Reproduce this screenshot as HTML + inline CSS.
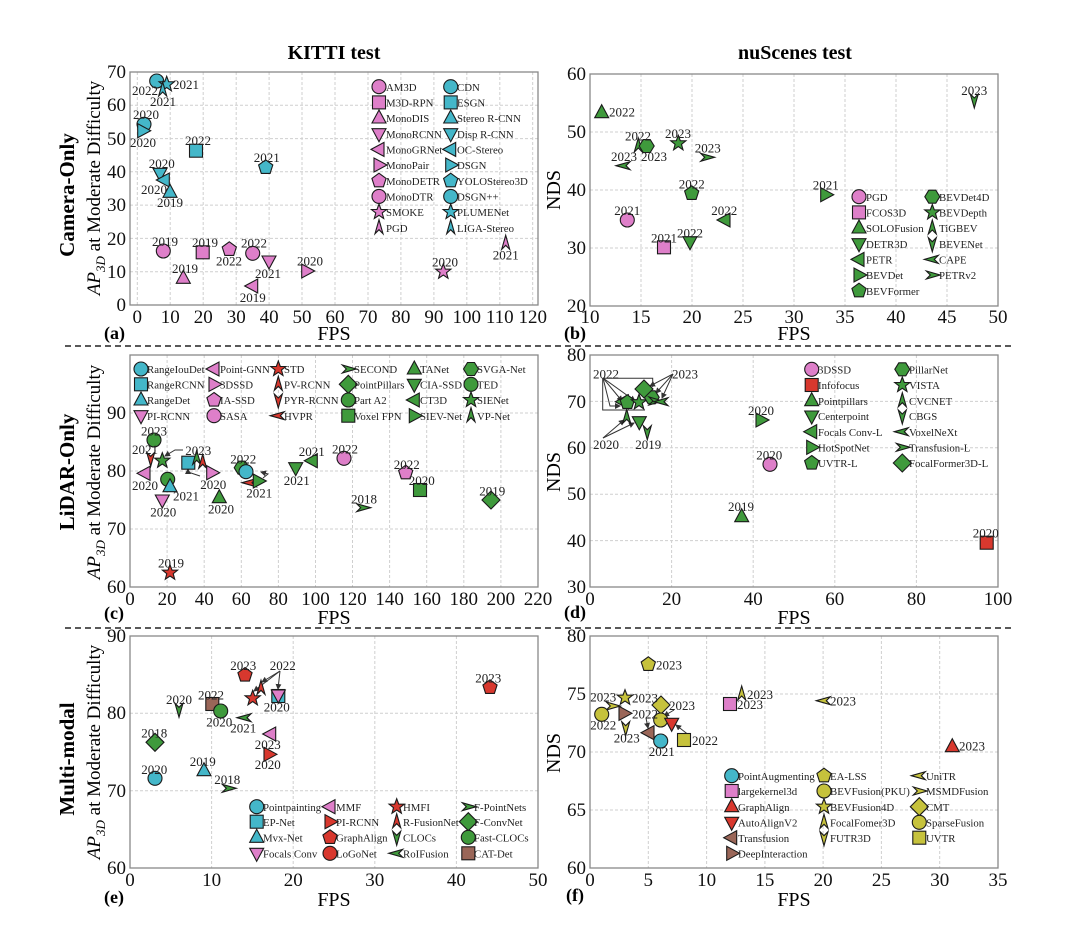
<!DOCTYPE html>
<html><head><meta charset="utf-8"><style>
html,body{margin:0;padding:0;background:#fff}
svg{display:block;font-family:"Liberation Serif",serif}
.g{stroke:#cfcfcf;stroke-width:1;stroke-dasharray:3,2}
.ax{fill:none;stroke:#888;stroke-width:1.3}
.tk{font-size:19px;fill:#111}
.yl{font-size:13px;fill:#222;text-anchor:middle}
.yl .s{text-anchor:start}
.lg{font-size:10.8px;fill:#222}
.m{stroke:#1a1a1a;stroke-width:1.1}
.pk{fill:#de7fc9}.cy{fill:#44b7c9}.gr{fill:#3f9a3c}.rd{fill:#d8382e}.br{fill:#9a6658}.ol{fill:#c6c23c}
.ln{stroke:#333;stroke-width:1;fill:none}
</style></head><body>
<svg width="1080" height="926" viewBox="0 0 1080 926" xmlns="http://www.w3.org/2000/svg">
<defs>
<g id="c"><circle r="7"/></g>
<g id="s"><rect x="-6.5" y="-6.5" width="13" height="13"/></g>
<g id="tu"><polygon points="0,-8 7,5 -7,5"/></g>
<g id="td"><polygon points="0,8 7,-5 -7,-5"/></g>
<g id="tl"><polygon points="-8,0 5,-7 5,7"/></g>
<g id="tr"><polygon points="8,0 -5,-7 -5,7"/></g>
<g id="p"><polygon points="0,-7.5 7.1,-2.3 4.4,6.1 -4.4,6.1 -7.1,-2.3"/></g>
<g id="h"><polygon points="-3.5,-6.5 3.5,-6.5 7.5,0 3.5,6.5 -3.5,6.5 -7.5,0"/></g>
<g id="st"><polygon points="0,-8 2,-2.6 7.6,-2.5 3.2,1 4.7,6.5 0,3.3 -4.7,6.5 -3.2,1 -7.6,-2.5 -2,-2.6"/></g>
<g id="d"><polygon points="0,-9 9,0 0,9 -9,0"/></g>
<g id="ca"><path d="M0,-8 L4,6 L0,2 L-4,6Z"/></g>
<g id="v"><path d="M0,8 L4,-6 L0,-2 L-4,-6Z"/></g>
<g id="lt"><path d="M-8,0 L6,-4 L2,0 L6,4Z"/></g>
<g id="gt"><path d="M8,0 L-6,-4 L-2,0 L-6,4Z"/></g>
<marker id="ar" markerWidth="6" markerHeight="6" refX="5" refY="3" orient="auto"><path d="M0,0 L6,3 L0,6Z" fill="#333"/></marker>
</defs>

<text x="334" y="59" font-size="20" font-weight="bold" text-anchor="middle">KITTI test</text>
<text x="795" y="59" font-size="20" font-weight="bold" text-anchor="middle">nuScenes test</text>
<text transform="translate(74,195) rotate(-90)" font-size="21" font-weight="bold" text-anchor="middle">Camera-Only</text>
<text transform="translate(74,472) rotate(-90)" font-size="21" font-weight="bold" text-anchor="middle">LiDAR-Only</text>
<text transform="translate(74,759) rotate(-90)" font-size="21" font-weight="bold" text-anchor="middle">Multi-modal</text>
<text transform="translate(100,188) rotate(-90)" font-size="19" text-anchor="middle"><tspan font-style="italic">AP</tspan><tspan font-size="13" dy="5" font-style="italic">3D</tspan><tspan dy="-5"> at Moderate Difficulty</tspan></text>
<text transform="translate(100,472) rotate(-90)" font-size="19" text-anchor="middle"><tspan font-style="italic">AP</tspan><tspan font-size="13" dy="5" font-style="italic">3D</tspan><tspan dy="-5"> at Moderate Difficulty</tspan></text>
<text transform="translate(100,752) rotate(-90)" font-size="19" text-anchor="middle"><tspan font-style="italic">AP</tspan><tspan font-size="13" dy="5" font-style="italic">3D</tspan><tspan dy="-5"> at Moderate Difficulty</tspan></text>
<text transform="translate(560,190) rotate(-90)" font-size="20" text-anchor="middle">NDS</text>
<text transform="translate(560,472) rotate(-90)" font-size="20" text-anchor="middle">NDS</text>
<text transform="translate(560,753) rotate(-90)" font-size="20" text-anchor="middle">NDS</text>
<line x1="65" y1="346" x2="1015" y2="346" stroke="#222" stroke-width="1.6" stroke-dasharray="6,4"/>
<line x1="65" y1="628" x2="1015" y2="628" stroke="#222" stroke-width="1.6" stroke-dasharray="6,4"/>

<g font-size="20" text-anchor="middle">
<text x="334" y="340">FPS</text><text x="794" y="340">FPS</text>
<text x="334" y="624">FPS</text><text x="794" y="624">FPS</text>
<text x="334" y="906">FPS</text><text x="794" y="906">FPS</text>
</g>
<g font-size="18" font-weight="bold">
<text x="104" y="339">(a)</text><text x="564" y="339">(b)</text>
<text x="104" y="619">(c)</text><text x="564" y="618">(d)</text>
<text x="104" y="903">(e)</text><text x="566" y="901">(f)</text>
</g>

<!-- PANEL A -->
<g class="g">
<line x1="137.3" y1="72" x2="137.3" y2="305"/><line x1="170.2" y1="72" x2="170.2" y2="305"/><line x1="203.2" y1="72" x2="203.2" y2="305"/><line x1="236.2" y1="72" x2="236.2" y2="305"/><line x1="269.1" y1="72" x2="269.1" y2="305"/><line x1="302" y1="72" x2="302" y2="305"/><line x1="335" y1="72" x2="335" y2="305"/><line x1="368" y1="72" x2="368" y2="305"/><line x1="400.9" y1="72" x2="400.9" y2="305"/><line x1="433.9" y1="72" x2="433.9" y2="305"/><line x1="466.8" y1="72" x2="466.8" y2="305"/><line x1="499.8" y1="72" x2="499.8" y2="305"/><line x1="532.7" y1="72" x2="532.7" y2="305"/>
<line x1="130" y1="271.7" x2="538" y2="271.7"/><line x1="130" y1="238.4" x2="538" y2="238.4"/><line x1="130" y1="205.1" x2="538" y2="205.1"/><line x1="130" y1="171.8" x2="538" y2="171.8"/><line x1="130" y1="138.6" x2="538" y2="138.6"/><line x1="130" y1="105.3" x2="538" y2="105.3"/>
</g>
<rect class="ax" x="130" y="72" width="408" height="233"/>
<g class="tk" text-anchor="middle">
<text x="137.3" y="323">0</text><text x="170.2" y="323">10</text><text x="203.2" y="323">20</text><text x="236.2" y="323">30</text><text x="269.1" y="323">40</text><text x="302" y="323">50</text><text x="335" y="323">60</text><text x="368" y="323">70</text><text x="400.9" y="323">80</text><text x="433.9" y="323">90</text><text x="466.8" y="323">100</text><text x="499.8" y="323">110</text><text x="532.7" y="323">120</text>
</g>
<g class="tk" text-anchor="end">
<text x="126" y="311">0</text><text x="126" y="278">10</text><text x="126" y="245">20</text><text x="126" y="211">30</text><text x="126" y="178">40</text><text x="126" y="145">50</text><text x="126" y="111">60</text><text x="126" y="78">70</text>
</g>
<g class="m">
<use href="#c" x="156.7" y="81" class="cy"/><use href="#st" x="166.7" y="84.3" class="cy"/><use href="#ca" x="162.7" y="90" class="cy"/>
<use href="#c" x="144" y="124.3" class="cy"/><use href="#tr" x="142.7" y="130.7" class="cy"/><use href="#s" x="196" y="150.7" class="cy"/>
<use href="#p" x="265.7" y="167.3" class="cy"/><use href="#td" x="160" y="173.3" class="cy"/><use href="#tl" x="164.3" y="180" class="cy"/><use href="#tu" x="170" y="192.3" class="cy"/>
<use href="#c" x="163.3" y="251" class="pk"/><use href="#s" x="202.7" y="252.3" class="pk"/><use href="#tu" x="183.3" y="278.3" class="pk"/><use href="#p" x="229.3" y="249.3" class="pk"/>
<use href="#c" x="252.7" y="253.3" class="pk"/><use href="#td" x="269" y="261" class="pk"/><use href="#tl" x="252.7" y="286" class="pk"/><use href="#tr" x="306.7" y="271" class="pk"/>
<use href="#st" x="443.3" y="271.7" class="pk"/><use href="#ca" x="505.7" y="243.3" class="pk"/>
</g>
<g class="yl">
<text x="145" y="95">2022</text><text x="186" y="89">2021</text><text x="163" y="106">2021</text><text x="146" y="119">2020</text><text x="143" y="147">2020</text><text x="198" y="145">2022</text><text x="266.7" y="162">2021</text><text x="161.7" y="168">2020</text><text x="154" y="194">2020</text><text x="170" y="207">2019</text>
<text x="165" y="246">2019</text><text x="205" y="247">2019</text><text x="185" y="273">2019</text><text x="229" y="265.7">2022</text><text x="254" y="247.7">2022</text><text x="268" y="278">2021</text><text x="252.7" y="302">2019</text><text x="310" y="265.7">2020</text><text x="445" y="266.7">2020</text><text x="505.7" y="259.3">2021</text>
</g>
<g class="m">
<use href="#c" x="379" y="86.7" class="pk"/><use href="#s" x="379" y="102.4" class="pk"/><use href="#tu" x="379" y="118" class="pk"/><use href="#td" x="379" y="133.7" class="pk"/><use href="#tl" x="379" y="149.4" class="pk"/><use href="#tr" x="379" y="165" class="pk"/><use href="#p" x="379" y="180.7" class="pk"/><use href="#c" x="379" y="196.4" class="pk"/><use href="#st" x="379" y="212" class="pk"/><use href="#ca" x="379" y="227.7" class="pk"/>
<use href="#c" x="450.7" y="86.7" class="cy"/><use href="#s" x="450.7" y="102.4" class="cy"/><use href="#tu" x="450.7" y="118" class="cy"/><use href="#td" x="450.7" y="133.7" class="cy"/><use href="#tl" x="450.7" y="149.4" class="cy"/><use href="#tr" x="450.7" y="165" class="cy"/><use href="#p" x="450.7" y="180.7" class="cy"/><use href="#c" x="450.7" y="196.4" class="cy"/><use href="#st" x="450.7" y="212" class="cy"/><use href="#ca" x="450.7" y="227.7" class="cy"/>
</g>
<g class="lg">
<text x="386" y="91">AM3D</text><text x="386" y="106.5">M3D-RPN</text><text x="386" y="122">MonoDIS</text><text x="386" y="138">MonoRCNN</text><text x="386" y="153.5">MonoGRNet</text><text x="386" y="169">MonoPair</text><text x="386" y="185">MonoDETR</text><text x="386" y="200.5">MonoDTR</text><text x="386" y="216">SMOKE</text><text x="386" y="232">PGD</text>
<text x="457" y="91">CDN</text><text x="457" y="106.5">ESGN</text><text x="457" y="122">Stereo R-CNN</text><text x="457" y="138">Disp R-CNN</text><text x="457" y="153.5">OC-Stereo</text><text x="457" y="169">DSGN</text><text x="457" y="185">YOLOStereo3D</text><text x="457" y="200.5">DSGN++</text><text x="457" y="216">PLUMENet</text><text x="457" y="232">LIGA-Stereo</text>
</g>

<!-- PANEL B -->
<g class="g">
<line x1="641" y1="74" x2="641" y2="306"/><line x1="692" y1="74" x2="692" y2="306"/><line x1="743" y1="74" x2="743" y2="306"/><line x1="794" y1="74" x2="794" y2="306"/><line x1="845" y1="74" x2="845" y2="306"/><line x1="896" y1="74" x2="896" y2="306"/><line x1="947" y1="74" x2="947" y2="306"/>
<line x1="590" y1="248" x2="998" y2="248"/><line x1="590" y1="190" x2="998" y2="190"/><line x1="590" y1="132" x2="998" y2="132"/>
</g>
<rect class="ax" x="590" y="74" width="408" height="232"/>
<g class="tk" text-anchor="middle">
<text x="590" y="323">10</text><text x="641" y="323">15</text><text x="692" y="323">20</text><text x="743" y="323">25</text><text x="794" y="323">30</text><text x="845" y="323">35</text><text x="896" y="323">40</text><text x="947" y="323">45</text><text x="998" y="323">50</text>
</g>
<g class="tk" text-anchor="end">
<text x="586" y="312">20</text><text x="586" y="254">30</text><text x="586" y="196">40</text><text x="586" y="138">50</text><text x="586" y="80">60</text>
</g>
<g class="m">
<use href="#tu" x="601.7" y="112.7" class="gr"/><use href="#ca" x="638.3" y="146" class="gr"/><use href="#h" x="646.7" y="146" class="gr"/><use href="#st" x="678.3" y="143.3" class="gr"/><use href="#gt" x="706.7" y="157.3" class="gr"/><use href="#lt" x="624" y="165.7" class="gr"/>
<use href="#p" x="691.7" y="193.3" class="gr"/><use href="#tr" x="825.7" y="194.7" class="gr"/><use href="#c" x="627.3" y="220" class="pk"/><use href="#s" x="664" y="247.3" class="pk"/><use href="#td" x="690" y="241.7" class="gr"/><use href="#tl" x="725" y="220" class="gr"/><use href="#v" x="974.3" y="100" class="gr"/>
</g>
<g class="yl">
<text x="622" y="116.7">2022</text><text x="638" y="140.7">2022</text><text x="678" y="138">2023</text><text x="707.7" y="152.7">2023</text><text x="624" y="161">2023</text><text x="654" y="161">2023</text>
<text x="691.7" y="188.3">2022</text><text x="825.7" y="189.7">2021</text><text x="627.3" y="215">2021</text><text x="664" y="242.3">2021</text><text x="690" y="237.3">2022</text><text x="724.3" y="215">2022</text><text x="974.3" y="95">2023</text>
</g>
<g class="m">
<use href="#c" x="859" y="196.7" class="pk"/><use href="#s" x="859" y="212.4" class="pk"/><use href="#tu" x="859" y="228" class="gr"/><use href="#td" x="859" y="243.7" class="gr"/><use href="#tl" x="859" y="259.4" class="gr"/><use href="#tr" x="859" y="275" class="gr"/><use href="#p" x="859" y="290.7" class="gr"/>
<use href="#h" x="932.3" y="196.7" class="gr"/><use href="#st" x="932.3" y="212.4" class="gr"/><use href="#ca" x="932.3" y="228" class="gr"/><use href="#v" x="932.3" y="243.7" class="gr"/><use href="#lt" x="932.3" y="259.4" class="gr"/><use href="#gt" x="932.3" y="275" class="gr"/>
</g>
<g class="lg">
<text x="866" y="201">PGD</text><text x="866" y="216.5">FCOS3D</text><text x="866" y="232">SOLOFusion</text><text x="866" y="248">DETR3D</text><text x="866" y="263.5">PETR</text><text x="866" y="279">BEVDet</text><text x="866" y="295">BEVFormer</text>
<text x="939" y="201">BEVDet4D</text><text x="939" y="216.5">BEVDepth</text><text x="939" y="232">TiGBEV</text><text x="939" y="248">BEVENet</text><text x="939" y="263.5">CAPE</text><text x="939" y="279">PETRv2</text>
</g>

<!-- PANEL C -->
<g class="g">
<line x1="167.1" y1="355" x2="167.1" y2="587"/><line x1="204.2" y1="355" x2="204.2" y2="587"/><line x1="241.3" y1="355" x2="241.3" y2="587"/><line x1="278.4" y1="355" x2="278.4" y2="587"/><line x1="315.5" y1="355" x2="315.5" y2="587"/><line x1="352.5" y1="355" x2="352.5" y2="587"/><line x1="389.6" y1="355" x2="389.6" y2="587"/><line x1="426.7" y1="355" x2="426.7" y2="587"/><line x1="463.8" y1="355" x2="463.8" y2="587"/><line x1="500.9" y1="355" x2="500.9" y2="587"/>
<line x1="130" y1="529" x2="538" y2="529"/><line x1="130" y1="471" x2="538" y2="471"/><line x1="130" y1="413" x2="538" y2="413"/>
</g>
<rect class="ax" x="130" y="355" width="408" height="232"/>
<g class="tk" text-anchor="middle">
<text x="130" y="605">0</text><text x="167.1" y="605">20</text><text x="204.2" y="605">40</text><text x="241.3" y="605">60</text><text x="278.4" y="605">80</text><text x="315.5" y="605">100</text><text x="352.5" y="605">120</text><text x="389.6" y="605">140</text><text x="426.7" y="605">160</text><text x="463.8" y="605">180</text><text x="500.9" y="605">200</text><text x="538" y="605">220</text>
</g>
<g class="tk" text-anchor="end">
<text x="126" y="593">60</text><text x="126" y="535">70</text><text x="126" y="477">80</text><text x="126" y="419">90</text>
</g>
<path class="ln" d="M183,450 L175,450 L165,456" marker-end="url(#ar)"/>
<path class="ln" d="M200,476 L188,472 L188,469" marker-end="url(#ar)"/>
<path class="ln" d="M263,478 L268,474 L261,472" marker-end="url(#ar)"/>
<g class="m">
<use href="#c" x="154" y="440" class="gr"/><use href="#v" x="150.7" y="458.3" class="rd"/><use href="#st" x="162.3" y="460.7" class="gr"/><use href="#s" x="188.3" y="462.7" class="cy"/><use href="#ca" x="196.7" y="458.3" class="gr"/><use href="#ca" x="202.7" y="462.3" class="rd"/>
<use href="#tr" x="211.7" y="472.7" class="pk"/><use href="#tl" x="145" y="473.3" class="pk"/><use href="#c" x="167.7" y="479.3" class="gr"/><use href="#tu" x="170" y="486.7" class="cy"/><use href="#td" x="162.3" y="500" class="pk"/><use href="#tu" x="219.3" y="497.7" class="gr"/>
<use href="#h" x="241.7" y="467.7" class="gr"/><use href="#c" x="246" y="471.7" class="cy"/><use href="#lt" x="250" y="482.7" class="rd"/><use href="#tr" x="258.3" y="481" class="gr"/><use href="#td" x="295.7" y="467.7" class="gr"/><use href="#tl" x="312.3" y="460.7" class="gr"/>
<use href="#c" x="344" y="458.3" class="pk"/><use href="#gt" x="362.7" y="507.7" class="gr"/><use href="#p" x="405.7" y="472.7" class="pk"/><use href="#s" x="420" y="490" class="gr"/><use href="#d" x="491" y="500" class="gr"/><use href="#st" x="170" y="572.7" class="rd"/>
</g>
<g class="yl">
<text x="154" y="435.7">2023</text><text x="145" y="454">2021</text><text x="198.3" y="455">2023</text><text x="213.3" y="489">2020</text><text x="145" y="490">2020</text><text x="186" y="500.7">2021</text><text x="163.3" y="516.7">2020</text><text x="221" y="513.3">2020</text>
<text x="243.3" y="463.3">2022</text><text x="259.3" y="497.3">2021</text><text x="296.7" y="485">2021</text><text x="311.7" y="456">2021</text><text x="345" y="453.3">2022</text><text x="364" y="503.3">2018</text><text x="406.7" y="469">2022</text><text x="421.7" y="485">2020</text><text x="492.3" y="495.7">2019</text><text x="171" y="567.7">2019</text>
</g>
<g class="m">
<use href="#c" x="141" y="369" class="cy"/><use href="#s" x="141" y="384.3" class="cy"/><use href="#tu" x="141" y="400" class="cy"/><use href="#td" x="141" y="415.7" class="pk"/>
<use href="#tl" x="214" y="369" class="pk"/><use href="#tr" x="214" y="384.3" class="pk"/><use href="#p" x="214" y="400" class="pk"/><use href="#c" x="214" y="415.7" class="pk"/>
<use href="#st" x="278.3" y="369" class="rd"/><use href="#ca" x="278.3" y="384.3" class="rd"/><use href="#v" x="278.3" y="400" class="rd"/><use href="#lt" x="278.3" y="415.7" class="rd"/>
<use href="#gt" x="348.3" y="369" class="gr"/><use href="#d" x="348.3" y="384.3" class="gr"/><use href="#c" x="348.3" y="400" class="gr"/><use href="#s" x="348.3" y="415.7" class="gr"/>
<use href="#tu" x="414.3" y="369" class="gr"/><use href="#td" x="414.3" y="384.3" class="gr"/><use href="#tl" x="414.3" y="400" class="gr"/><use href="#tr" x="414.3" y="415.7" class="gr"/>
<use href="#h" x="471" y="369" class="gr"/><use href="#c" x="471" y="384.3" class="gr"/><use href="#st" x="471" y="400" class="gr"/><use href="#ca" x="471" y="415.7" class="gr"/>
</g>
<g class="lg">
<text x="147" y="373">RangeIouDet</text><text x="147" y="388.5">RangeRCNN</text><text x="147" y="404">RangeDet</text><text x="147" y="420">PI-RCNN</text>
<text x="220" y="373">Point-GNN</text><text x="220" y="388.5">3DSSD</text><text x="220" y="404">IA-SSD</text><text x="220" y="420">SASA</text>
<text x="284" y="373">STD</text><text x="284" y="388.5">PV-RCNN</text><text x="284" y="404">PYR-RCNN</text><text x="284" y="420">HVPR</text>
<text x="354" y="373">SECOND</text><text x="354" y="388.5">PointPillars</text><text x="354" y="404">Part A2</text><text x="354" y="420">Voxel FPN</text>
<text x="420" y="373">TANet</text><text x="420" y="388.5">CIA-SSD</text><text x="420" y="404">CT3D</text><text x="420" y="420">SIEV-Net</text>
<text x="477" y="373">SVGA-Net</text><text x="477" y="388.5">TED</text><text x="477" y="404">SIENet</text><text x="477" y="420">VP-Net</text>
</g>

<!-- PANEL D -->
<g class="g">
<line x1="671.6" y1="355" x2="671.6" y2="587"/><line x1="753.2" y1="355" x2="753.2" y2="587"/><line x1="834.8" y1="355" x2="834.8" y2="587"/><line x1="916.4" y1="355" x2="916.4" y2="587"/>
<line x1="590" y1="540.6" x2="998" y2="540.6"/><line x1="590" y1="494.2" x2="998" y2="494.2"/><line x1="590" y1="447.8" x2="998" y2="447.8"/><line x1="590" y1="401.4" x2="998" y2="401.4"/>
</g>
<rect class="ax" x="590" y="355" width="408" height="232"/>
<g class="tk" text-anchor="middle">
<text x="590" y="605">0</text><text x="671.6" y="605">20</text><text x="753.2" y="605">40</text><text x="834.8" y="605">60</text><text x="916.4" y="605">80</text><text x="998" y="605">100</text>
</g>
<g class="tk" text-anchor="end">
<text x="586" y="593">30</text><text x="586" y="547">40</text><text x="586" y="500">50</text><text x="586" y="454">60</text><text x="586" y="408">70</text><text x="586" y="361">80</text>
</g>
<path class="ln" d="M602.7,378.3 L652.7,378.3 L652.7,387 M602.7,378.3 L602.7,410 L645,410"/>
<path class="ln" d="M603,378 L622,401" marker-end="url(#ar)"/><path class="ln" d="M603,378 L635,401" marker-end="url(#ar)"/><path class="ln" d="M603,378 L610,406 L620,406" marker-end="url(#ar)"/>
<path class="ln" d="M673,374 L650,386" marker-end="url(#ar)"/><path class="ln" d="M673,374 L656,393" marker-end="url(#ar)"/><path class="ln" d="M673,374 L662,398" marker-end="url(#ar)"/>
<path class="ln" d="M603,438 L624,420" marker-end="url(#ar)"/><path class="ln" d="M603,438 L634,423" marker-end="url(#ar)"/>
<g class="m">
<use href="#ca" x="626.7" y="417.3" class="gr"/><use href="#td" x="639.3" y="421.7" class="gr"/><use href="#v" x="647.3" y="431.7" class="gr"/>
<use href="#tl" x="623.3" y="401.7" class="gr"/><use href="#p" x="627.3" y="402.3" class="gr"/><use href="#st" x="639" y="402.3" class="gr"/><use href="#h" x="651.7" y="397.3" class="gr"/><use href="#gt" x="655" y="401" class="gr"/><use href="#lt" x="662" y="401.7" class="gr"/><use href="#d" x="644" y="389" class="gr"/>
<use href="#tr" x="761" y="420" class="gr"/><use href="#c" x="770" y="464.3" class="pk"/><use href="#tu" x="741.7" y="516.7" class="gr"/><use href="#s" x="986.7" y="542.7" class="rd"/>
</g>
<g class="yl">
<text x="606" y="378.3">2022</text><text x="685" y="378.3">2023</text><text x="606" y="449">2020</text><text x="648.3" y="449">2019</text><text x="761" y="415">2020</text><text x="769.3" y="459.3">2020</text><text x="741" y="511">2019</text><text x="985.7" y="537.7">2020</text>
</g>
<g class="m">
<use href="#c" x="811.7" y="369.3" class="pk"/><use href="#s" x="811.7" y="385" class="rd"/><use href="#tu" x="811.7" y="400.7" class="gr"/><use href="#td" x="811.7" y="416" class="gr"/><use href="#tl" x="811.7" y="431.7" class="gr"/><use href="#tr" x="811.7" y="447.3" class="gr"/><use href="#p" x="811.7" y="463" class="gr"/>
<use href="#h" x="902.3" y="369.3" class="gr"/><use href="#st" x="902.3" y="385" class="gr"/><use href="#ca" x="902.3" y="400.7" class="gr"/><use href="#v" x="902.3" y="416" class="gr"/><use href="#lt" x="902.3" y="431.7" class="gr"/><use href="#gt" x="902.3" y="447.3" class="gr"/><use href="#d" x="902.3" y="463" class="gr"/>
</g>
<g class="lg">
<text x="818" y="373.5">3DSSD</text><text x="818" y="389">Infofocus</text><text x="818" y="405">Pointpillars</text><text x="818" y="420">Centerpoint</text><text x="818" y="436">Focals Conv-L</text><text x="818" y="451.5">HotSpotNet</text><text x="818" y="467">UVTR-L</text>
<text x="909" y="373.5">PillarNet</text><text x="909" y="389">VISTA</text><text x="909" y="405">CVCNET</text><text x="909" y="420">CBGS</text><text x="909" y="436">VoxelNeXt</text><text x="909" y="451.5">Transfusion-L</text><text x="909" y="467">FocalFormer3D-L</text>
</g>

<!-- PANEL E -->
<g class="g">
<line x1="211.6" y1="636" x2="211.6" y2="868"/><line x1="293.2" y1="636" x2="293.2" y2="868"/><line x1="374.8" y1="636" x2="374.8" y2="868"/><line x1="456.4" y1="636" x2="456.4" y2="868"/>
<line x1="130" y1="790.7" x2="538" y2="790.7"/><line x1="130" y1="713.3" x2="538" y2="713.3"/>
</g>
<rect class="ax" x="130" y="636" width="408" height="232"/>
<g class="tk" text-anchor="middle">
<text x="130" y="886">0</text><text x="211.6" y="886">10</text><text x="293.2" y="886">20</text><text x="374.8" y="886">30</text><text x="456.4" y="886">40</text><text x="538" y="886">50</text>
</g>
<g class="tk" text-anchor="end">
<text x="126" y="874">60</text><text x="126" y="797">70</text><text x="126" y="719">80</text><text x="126" y="642">90</text>
</g>
<path class="ln" d="M280,671 L254,691" marker-end="url(#ar)"/><path class="ln" d="M280,671 L262,682" marker-end="url(#ar)"/><path class="ln" d="M280,671 L278,689" marker-end="url(#ar)"/>
<g class="m">
<use href="#p" x="245" y="675" class="rd"/><use href="#st" x="252.7" y="698.3" class="rd"/><use href="#ca" x="261" y="688.3" class="rd"/><use href="#s" x="278.3" y="696" class="cy"/><use href="#td" x="278.3" y="695" class="pk"/>
<use href="#v" x="179" y="709.3" class="gr"/><use href="#s" x="212.3" y="704" class="br"/><use href="#c" x="220.7" y="711" class="gr"/><use href="#lt" x="245" y="717.7" class="gr"/><use href="#tl" x="270.7" y="734" class="pk"/><use href="#tr" x="269" y="754.3" class="rd"/>
<use href="#d" x="155" y="742.3" class="gr"/><use href="#c" x="155" y="778.3" class="cy"/><use href="#tu" x="204" y="770.7" class="cy"/><use href="#gt" x="228.3" y="788.3" class="gr"/><use href="#p" x="490" y="687.3" class="rd"/>
</g>
<g class="yl">
<text x="243.3" y="670">2023</text><text x="282.7" y="670">2022</text><text x="276.7" y="711.7">2020</text><text x="179" y="704">2020</text><text x="211" y="699.3">2022</text><text x="219.3" y="726.7">2020</text><text x="243.3" y="732.7">2021</text>
<text x="267.7" y="749">2023</text><text x="267.7" y="769">2020</text><text x="154.3" y="737.7">2018</text><text x="154.3" y="774">2020</text><text x="202.7" y="766">2019</text><text x="227.3" y="784">2018</text><text x="488.3" y="682.7">2023</text>
</g>
<g class="m">
<use href="#c" x="256.7" y="806.7" class="cy"/><use href="#s" x="256.7" y="821.7" class="cy"/><use href="#tu" x="256.7" y="837.3" class="cy"/><use href="#td" x="256.7" y="853.3" class="pk"/>
<use href="#tl" x="330" y="806.7" class="pk"/><use href="#tr" x="330" y="821.7" class="rd"/><use href="#p" x="330" y="837.3" class="rd"/><use href="#c" x="330" y="853.3" class="rd"/>
<use href="#st" x="396.7" y="806.7" class="rd"/><use href="#ca" x="396.7" y="821.7" class="rd"/><use href="#v" x="396.7" y="837.3" class="gr"/><use href="#lt" x="396.7" y="853.3" class="gr"/>
<use href="#gt" x="468.3" y="806.7" class="gr"/><use href="#d" x="468.3" y="821.7" class="gr"/><use href="#c" x="468.3" y="837.3" class="gr"/><use href="#s" x="468.3" y="853.3" class="br"/>
</g>
<g class="lg">
<text x="263" y="811">Pointpainting</text><text x="263" y="826">EP-Net</text><text x="263" y="841.5">Mvx-Net</text><text x="263" y="857.5">Focals Conv</text>
<text x="336" y="811">MMF</text><text x="336" y="826">PI-RCNN</text><text x="336" y="841.5">GraphAlign</text><text x="336" y="857.5">LoGoNet</text>
<text x="403" y="811">HMFI</text><text x="403" y="826">R-FusionNet</text><text x="403" y="841.5">CLOCs</text><text x="403" y="857.5">RoIFusion</text>
<text x="474" y="811">F-PointNets</text><text x="474" y="826">F-ConvNet</text><text x="474" y="841.5">Fast-CLOCs</text><text x="474" y="857.5">CAT-Det</text>
</g>

<!-- PANEL F -->
<g class="g">
<line x1="648.3" y1="636" x2="648.3" y2="868"/><line x1="706.6" y1="636" x2="706.6" y2="868"/><line x1="764.9" y1="636" x2="764.9" y2="868"/><line x1="823.1" y1="636" x2="823.1" y2="868"/><line x1="881.4" y1="636" x2="881.4" y2="868"/><line x1="939.7" y1="636" x2="939.7" y2="868"/>
<line x1="590" y1="810" x2="998" y2="810"/><line x1="590" y1="752" x2="998" y2="752"/><line x1="590" y1="694" x2="998" y2="694"/>
</g>
<rect class="ax" x="590" y="636" width="408" height="232"/>
<g class="tk" text-anchor="middle">
<text x="590" y="886">0</text><text x="648.3" y="886">5</text><text x="706.6" y="886">10</text><text x="764.9" y="886">15</text><text x="823.1" y="886">20</text><text x="881.4" y="886">25</text><text x="939.7" y="886">30</text><text x="998" y="886">35</text>
</g>
<g class="tk" text-anchor="end">
<text x="586" y="874">60</text><text x="586" y="816">65</text><text x="586" y="758">70</text><text x="586" y="700">75</text><text x="586" y="642">80</text>
</g>
<path class="ln" d="M674,710 L664,716" marker-end="url(#ar)"/><path class="ln" d="M646,718 L648,728" marker-end="url(#ar)"/><path class="ln" d="M690,736 L676,725" marker-end="url(#ar)"/>
<g class="m">
<use href="#p" x="648.3" y="664.3" class="ol"/><use href="#st" x="625" y="697.7" class="ol"/><use href="#gt" x="612.3" y="706" class="ol"/><use href="#c" x="601.7" y="714.3" class="ol"/><use href="#tr" x="624" y="713.3" class="br"/><use href="#v" x="625.7" y="727.7" class="ol"/>
<use href="#tl" x="649" y="732.7" class="br"/><use href="#c" x="660.7" y="741" class="cy"/><use href="#d" x="661" y="705" class="ol"/><use href="#c" x="660.7" y="720" class="ol"/><use href="#td" x="671.7" y="723.3" class="rd"/><use href="#s" x="684" y="740" class="ol"/>
<use href="#s" x="730" y="704" class="pk"/><use href="#ca" x="741.7" y="694" class="ol"/><use href="#lt" x="824.3" y="700.7" class="ol"/><use href="#tu" x="952.3" y="746.7" class="rd"/>
</g>
<g class="yl">
<text class="s" x="656" y="669.3">2023</text><text class="s" x="632" y="702.7">2023</text><text x="603.3" y="701.7">2023</text><text x="603.3" y="729.3">2022</text><text class="s" x="632" y="718.3">2022</text><text x="626.7" y="742.7">2023</text>
<text x="661.7" y="756">2021</text><text class="s" x="669" y="710">2023</text><text class="s" x="692" y="745">2022</text><text class="s" x="737" y="709">2023</text><text class="s" x="747" y="699">2023</text><text class="s" x="830" y="705.7">2023</text><text class="s" x="959" y="750.7">2023</text>
</g>
<g class="m">
<use href="#c" x="731.7" y="775.7" class="cy"/><use href="#s" x="731.7" y="791" class="pk"/><use href="#tu" x="731.7" y="806.7" class="rd"/><use href="#td" x="731.7" y="822.3" class="rd"/><use href="#tl" x="731.7" y="837.7" class="br"/><use href="#tr" x="731.7" y="853.3" class="br"/>
<use href="#p" x="824" y="775.7" class="ol"/><use href="#c" x="824" y="791" class="ol"/><use href="#st" x="824" y="806.7" class="ol"/><use href="#ca" x="824" y="822.3" class="ol"/><use href="#v" x="824" y="837.7" class="ol"/>
<use href="#lt" x="919.3" y="775.7" class="ol"/><use href="#gt" x="919.3" y="791" class="ol"/><use href="#d" x="919.3" y="806.7" class="ol"/><use href="#c" x="919.3" y="822.3" class="ol"/><use href="#s" x="919.3" y="837.7" class="ol"/>
</g>
<g class="lg">
<text x="738" y="780">PointAugmenting</text><text x="738" y="795">largekernel3d</text><text x="738" y="811">GraphAlign</text><text x="738" y="826.5">AutoAlignV2</text><text x="738" y="842">Transfusion</text><text x="738" y="857.5">DeepInteraction</text>
<text x="830" y="780">EA-LSS</text><text x="830" y="795">BEVFusion(PKU)</text><text x="830" y="811">BEVFusion4D</text><text x="830" y="826.5">FocalFomer3D</text><text x="830" y="842">FUTR3D</text>
<text x="926" y="780">UniTR</text><text x="926" y="795">MSMDFusion</text><text x="926" y="811">CMT</text><text x="926" y="826.5">SparseFusion</text><text x="926" y="842">UVTR</text>
</g>
</svg>
</body></html>
